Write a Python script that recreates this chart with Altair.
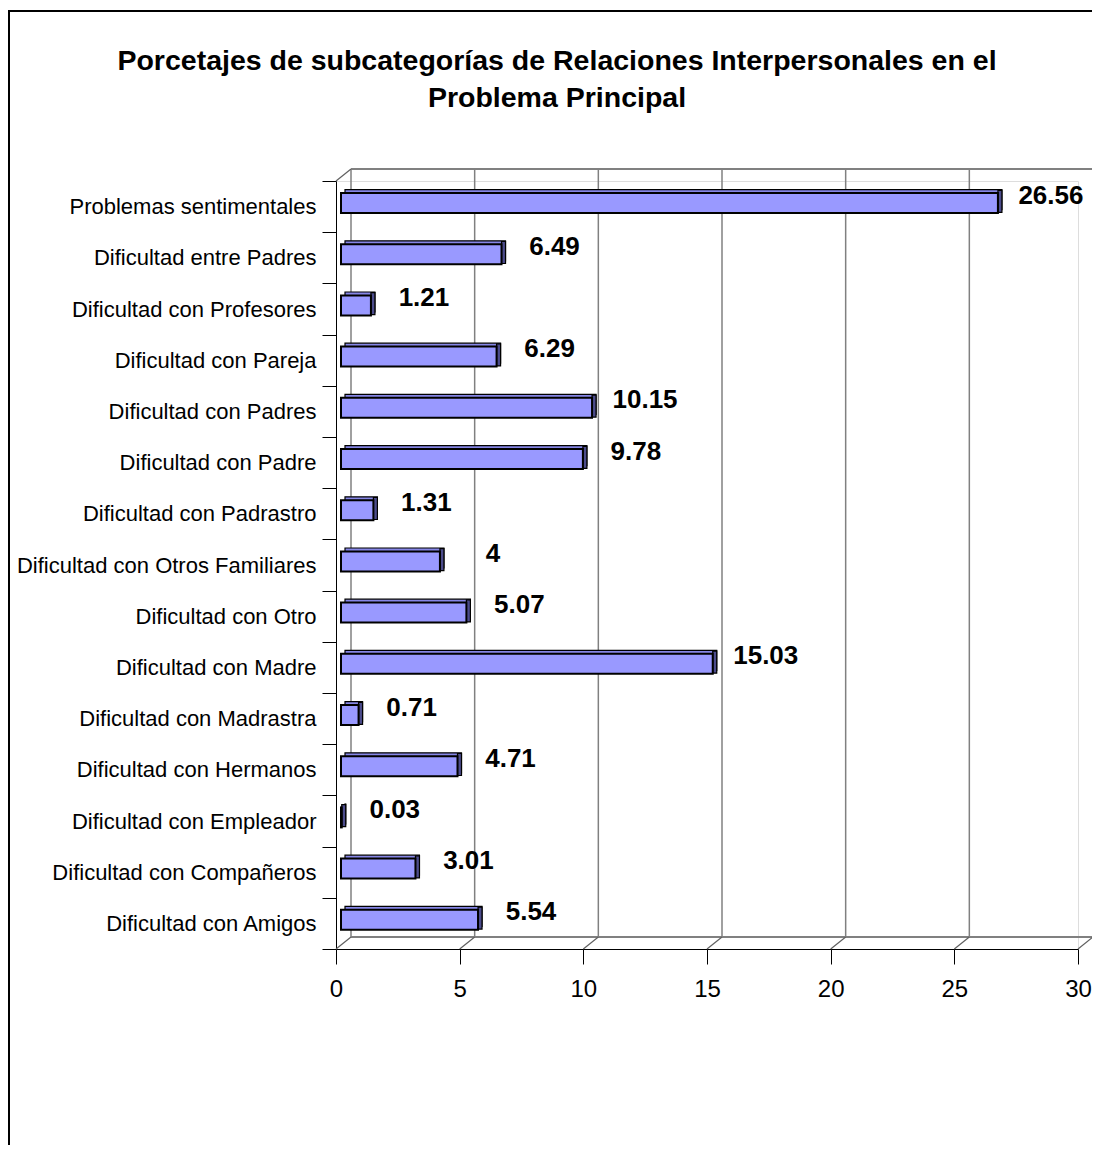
import altair as alt
import pandas as pd

# ---------------- data ----------------
categories = [
    "Problemas sentimentales",
    "Dificultad entre Padres",
    "Dificultad con Profesores",
    "Dificultad con Pareja",
    "Dificultad con Padres",
    "Dificultad con Padre",
    "Dificultad con Padrastro",
    "Dificultad con Otros Familiares",
    "Dificultad con Otro",
    "Dificultad con Madre",
    "Dificultad con Madrastra",
    "Dificultad con Hermanos",
    "Dificultad con Empleador",
    "Dificultad con Compañeros",
    "Dificultad con Amigos",
]
values = [26.56, 6.49, 1.21, 6.29, 10.15, 9.78, 1.31, 4, 5.07, 15.03, 0.71, 4.71, 0.03, 3.01, 5.54]
x_ticks = [0, 5, 10, 15, 20, 25, 30]
title_lines = [
    "Porcetajes de subcategorías de Relaciones Interpersonales en el",
    "Problema Principal",
]

# ---------------- style ----------------
FONT = "Liberation Sans"
W, H = 742, 768          # front plot area
DX, DY = 15, -12          # depth of the 3D back wall
FRONT = "#9999FF"
TOP = "#8686E6"
SIDE = "#4C4C8C"
GRAY = "#808080"

df = pd.DataFrame({
    "category": categories,
    "value": values,
    "label": [f"{v:g}" for v in values],
})
grid_df = pd.DataFrame({"tick": x_ticks})
one = pd.DataFrame({"k": [0]})

xscale = alt.Scale(domain=[0, 30], nice=False, zero=True)
yscale = alt.Scale(domain=categories, paddingInner=0, paddingOuter=0)

xaxis = alt.Axis(values=x_ticks, title=None, labels=True, labelFontSize=24, labelColor="black",
                 labelFont=FONT, labelPadding=13, tickSize=15, tickColor="black",
                 domainColor="black", grid=False, labelFlush=False, labelOverlap=False,
                 format="d")
yaxis = alt.Axis(title=None, labelFontSize=22, labelColor="black", labelFont=FONT,
                 labelPadding=6, tickSize=14, tickColor="black", domainColor="black",
                 tickBand="extent", labelLimit=400, grid=False)

X = lambda f: alt.X(f, scale=xscale, axis=xaxis)
Y = lambda f: alt.Y(f, scale=yscale, axis=yaxis, sort=categories)

# outer frame
border = alt.Chart(one).mark_rect(fillOpacity=0, stroke="black", strokeWidth=2).encode(
    x=alt.value(-327), x2=alt.value(800), y=alt.value(-170), y2=alt.value(1000)
)

# title (two centred lines)
title_style = dict(align="center", baseline="alphabetic", fontSize=28.5,
                   fontWeight="bold", font=FONT, color="black")
title1 = alt.Chart(one).mark_text(text=title_lines[0], **title_style).encode(
    x=alt.value(221), y=alt.value(-111))
title2 = alt.Chart(one).mark_text(text=title_lines[1], **title_style).encode(
    x=alt.value(221), y=alt.value(-74))

# back wall gridlines
grid = alt.Chart(grid_df).mark_rule(xOffset=DX, color=GRAY, strokeWidth=1.5).encode(
    x=X("tick:Q"), y=alt.value(DY), y2=alt.value(H + DY),
)
wall_top = alt.Chart(one).mark_rule(color=GRAY, strokeWidth=2).encode(
    x=alt.value(DX), x2=alt.value(W + DX), y=alt.value(DY)
)
wall_bottom = alt.Chart(one).mark_rule(color=GRAY, strokeWidth=2).encode(
    x=alt.value(DX), x2=alt.value(W + DX), y=alt.value(H + DY)
)
floor_diag = alt.Chart(grid_df).mark_rule(x2Offset=DX, color="#606060", strokeWidth=1.2).encode(
    x=X("tick:Q"), x2=alt.X2("tick"), y=alt.value(H), y2=alt.value(H + DY),
)
left_diag = alt.Chart(one).mark_rule(color="#606060", strokeWidth=1.2).encode(
    x=alt.value(0), x2=alt.value(DX), y=alt.value(0), y2=alt.value(DY)
)

# 3D bars
back = alt.Chart(df).mark_bar(xOffset=9, x2Offset=9, yOffset=-7, size=20,
                              fill=TOP, stroke="black", strokeWidth=1.2).encode(
    x=X("value:Q"), x2=alt.datum(0), y=Y("category:N"),
)
side = alt.Chart(df).mark_bar(xOffset=5, x2Offset=9, yOffset=-5.3, size=22,
                              fill=SIDE, stroke="black", strokeWidth=1.2).encode(
    x=X("value:Q"), x2=alt.X2("value"), y=Y("category:N"),
)
front = alt.Chart(df).mark_bar(xOffset=5, x2Offset=5, yOffset=-3.6, size=20,
                               fill=FRONT, stroke="black", strokeWidth=2).encode(
    x=X("value:Q"), x2=alt.datum(0), y=Y("category:N"),
)
labels = alt.Chart(df).mark_text(align="center", baseline="middle", xOffset=58, yOffset=-11,
                                 fontSize=26, fontWeight="bold", font=FONT, color="black").encode(
    x=X("value:Q"), y=Y("category:N"), text="label:N",
)

chart = alt.layer(
    border, title1, title2, grid, wall_top, wall_bottom, floor_diag, left_diag,
    back, side, front, labels
).properties(
    width=W, height=H,
    autosize=alt.AutoSizeParams(type="none"),
    padding={"left": 328, "top": 173, "right": 14, "bottom": 196},
).configure_view(strokeWidth=0).configure(font=FONT)

chart.save("out.html", embed_options={"renderer": "svg", "actions": False})
